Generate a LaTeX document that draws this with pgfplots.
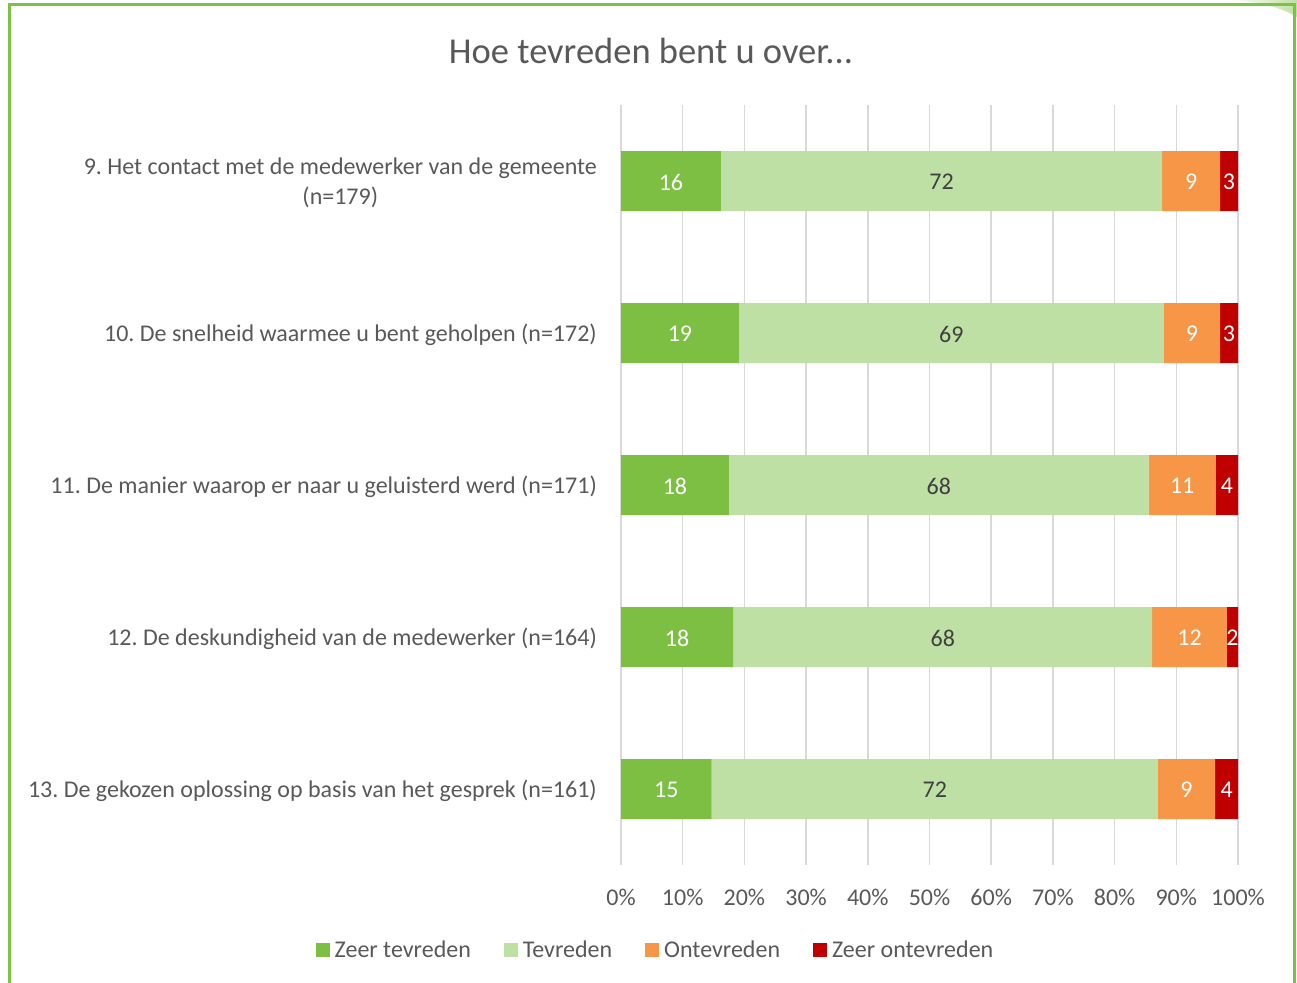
\documentclass[border=0pt]{standalone}
\usepackage{fontspec}
\setmainfont{Carlito}
\usepackage{pgfplots}
\pgfplotsset{compat=1.18}
\frenchspacing
\definecolor{zt}{HTML}{7CBF43}
\definecolor{tv}{HTML}{BFE0A5}
\definecolor{ot}{HTML}{F79646}
\definecolor{zo}{HTML}{C00000}
\definecolor{txt}{HTML}{595959}
\definecolor{grd}{HTML}{D9D9D9}
\definecolor{frame}{HTML}{7DC242}
\begin{document}
\begin{tikzpicture}
\useasboundingbox (0,0) rectangle (1297bp,983bp);
\fill[white] (0,0) rectangle (1297bp,983bp);
\shade[left color=white, right color=tv] (1230bp,983bp) -- (1297bp,983bp) -- (1297bp,966bp) .. controls (1280bp,976bp) and (1260bp,981bp) .. cycle;
\draw[line width=3bp, frame] (9bp,0) -- (9bp,978bp) -- (1294bp,978bp) -- (1294bp,0);
\node[text=txt, font=\fontsize{36.5bp}{44bp}\selectfont] at (651bp,932bp) {Hoe tevreden bent u over.{}.{}.};
\begin{axis}[
  at={(621bp,118bp)}, anchor=south west,
  scale only axis, width=617bp, height=760bp,
  xbar stacked, bar width=60bp,
  xmin=0, xmax=100, ymin=-0.5, ymax=4.5,
  y dir=reverse,
  axis line style={draw=none},
  xmajorgrids, major grid style={grd, line width=1.5bp},
  major tick length=0pt,
  xtick={0,10,...,100},
  xticklabels={0\%,10\%,20\%,30\%,40\%,50\%,60\%,70\%,80\%,90\%,100\%},
  ytick={0,1,2,3,4},
  yticklabels={{9. Het contact met de medewerker van de gemeente\\(n=179)},
    {10. De snelheid waarmee u bent geholpen (n=172)},
    {11. De manier waarop er naar u geluisterd werd (n=171)},
    {12. De deskundigheid van de medewerker (n=164)},
    {13. De gekozen oplossing op basis van het gesprek (n=161)}},
  yticklabel style={align=center, inner sep=0pt, xshift=-24bp, yshift=-2bp, text=txt, font=\fontsize{24bp}{30bp}\selectfont},
  xticklabel style={inner sep=0pt, yshift=-24bp, text=txt, font=\fontsize{24bp}{29bp}\selectfont},
  point meta=explicit symbolic,
  nodes near coords,
  every node near coord/.append style={font=\fontsize{24bp}{29bp}\selectfont, yshift=-1bp},
  legend columns=4,
  legend style={at={(0.0559,-0.1118)}, anchor=center, draw=none, fill=none,
    font=\fontsize{24bp}{29bp}\selectfont, text=txt,
    /tikz/every even column/.append style={column sep=31bp},
    nodes={inner sep=2bp}},
  legend image code/.code={\fill[#1] (0bp,-7bp) rectangle (14bp,7bp); \path (17bp,0bp);},
]
\addplot[fill=zt, draw=none, every node near coord/.append style={text=white}] coordinates {(16.2,0)[16] (19.1,1)[19] (17.5,2)[18] (18.2,3)[18] (14.7,4)[15]};
\addplot[fill=tv, draw=none, every node near coord/.append style={text=black!75}] coordinates {(71.5,0)[72] (68.9,1)[69] (68.0,2)[68] (67.9,3)[68] (72.3,4)[72]};
\addplot[fill=ot, draw=none, every node near coord/.append style={text=white}] coordinates {(9.4,0)[9] (9.1,1)[9] (10.9,2)[11] (12.1,3)[12] (9.3,4)[9]};
\addplot[fill=zo, draw=none, every node near coord/.append style={text=white}] coordinates {(2.9,0)[3] (2.9,1)[3] (3.6,2)[4] (1.8,3)[2] (3.7,4)[4]};
\legend{Zeer tevreden, Tevreden, Ontevreden, Zeer ontevreden}
\end{axis}
\end{tikzpicture}
\end{document}
